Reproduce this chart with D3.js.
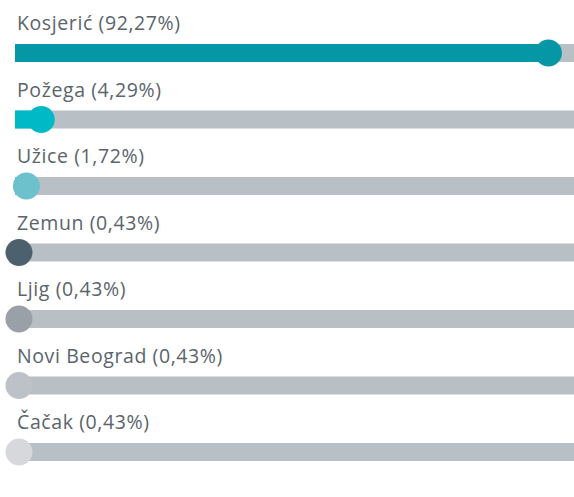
<!DOCTYPE html>
<html><head><meta charset="utf-8">
<script src="https://cdn.jsdelivr.net/npm/d3@7"></script>
<style>body{margin:0;background:#fff}</style>
</head><body>
<svg id="c" width="574" height="497"></svg>
<script>
const categories = ["Kosjerić", "Požega", "Užice", "Zemun", "Ljig", "Novi Beograd", "Čačak"];
const values = [92.27, 4.29, 1.72, 0.43, 0.43, 0.43, 0.43];
const colors = ["#0697a6", "#00b9c7", "#6cc1cd", "#4d606e", "#9aa0a7", "#bcc2c7", "#d6d8db"];

const svg = d3.select("#c");
const x = d3.scaleLinear().domain([0, 100]).range([16.5, 593]);
const y = d3.scalePoint().domain(categories).range([53, 452]);
const barH = 18, r = 13.5;

const g = svg.selectAll("g.row").data(categories).join("g").attr("class", "row")
  .attr("transform", d => `translate(0,${y(d)})`);

g.append("rect").attr("x", 15).attr("y", -barH/2).attr("width", 574 - 15).attr("height", barH).attr("fill", "#b8bfc5");
g.append("rect").attr("x", 15).attr("y", -barH/2)
  .attr("width", (d, i) => Math.max(0, x(values[i]) - 15)).attr("height", barH)
  .attr("fill", (d, i) => colors[i]);
g.append("circle").attr("cx", (d, i) => x(values[i])).attr("cy", 0).attr("r", r)
  .attr("fill", (d, i) => colors[i]);
g.append("text").attr("x", 17).attr("y", -23)
  .attr("font-family", "Open Sans, sans-serif").attr("font-size", 19.5).attr("letter-spacing", 0.6).attr("fill", "#5a646b")
  .text((d, i) => `${d} (${d3.format(".2f")(values[i]).replace(".", ",")}%)`);
</script>
</body></html>
